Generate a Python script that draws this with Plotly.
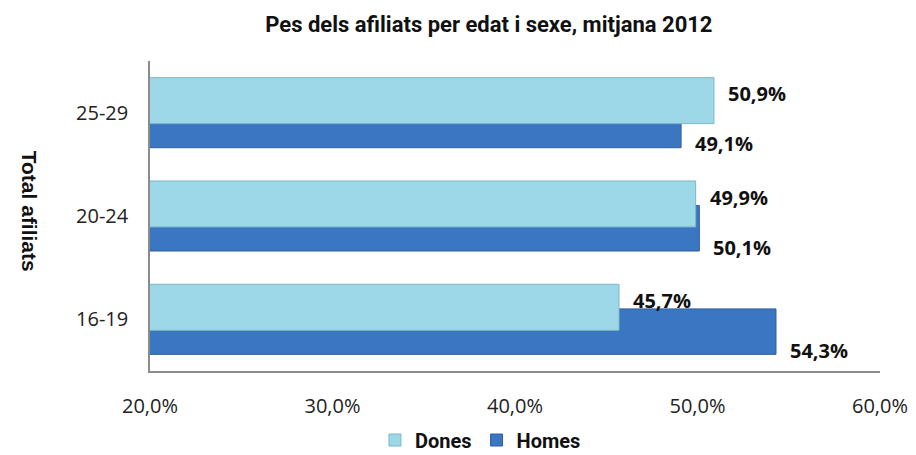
import plotly.graph_objects as go

categories = ["16-19", "20-24", "25-29"]
dones = [45.7, 49.9, 50.9]
homes = [54.3, 50.1, 49.1]
x_ticks = [20, 30, 40, 50, 60]
x_tick_labels = ["20,0%", "30,0%", "40,0%", "50,0%", "60,0%"]

def fmt(v):
    return f"{v:.1f}".replace(".", ",") + "%"

fig = go.Figure()
fig.add_trace(go.Bar(
    name="<b>Homes</b>", y=categories, x=homes, orientation="h",
    base=0, offset=-0.339, width=0.44,
    marker=dict(color="#3B76C3", line=dict(color="#2E5E9C", width=1)),
    legendrank=2, hoverinfo="x+y",
))
fig.add_trace(go.Bar(
    name="<b>Dones</b>", y=categories, x=dones, orientation="h",
    base=0, offset=-0.106, width=0.445,
    marker=dict(color="#9DD8E8", line=dict(color="#7DB6C6", width=1)),
    legendrank=1, hoverinfo="x+y",
))

label_font = dict(family="Open Sans, Noto Sans, sans-serif", size=20, color="#111")
for c, v in zip(categories, dones):
    fig.add_annotation(x=v, y=c, text="<b>" + fmt(v) + "</b>", showarrow=False,
                       xanchor="left", yanchor="middle", xshift=12, yshift=19, font=label_font)
for c, v in zip(categories, homes):
    fig.add_annotation(x=v, y=c, text="<b>" + fmt(v) + "</b>", showarrow=False,
                       xanchor="left", yanchor="middle", xshift=12, yshift=-31, font=label_font)

fig.add_annotation(text="<b>Total afiliats</b>", xref="paper", yref="paper",
                   x=-0.164, y=0.516, textangle=90, showarrow=False,
                   xanchor="center", yanchor="middle",
                   font=dict(family="Liberation Sans, Arial, sans-serif", size=21, color="#111"))

tick_font = dict(family="Open Sans, Noto Sans, sans-serif", size=20, color="#222")

fig.update_layout(
    width=916, height=455,
    margin=dict(l=142, r=44, t=53, b=92),
    paper_bgcolor="white", plot_bgcolor="white",
    barmode="overlay",
    title=dict(text="<b>Pes dels afiliats per edat i sexe, mitjana 2012</b>",
               x=0.525, xanchor="center", y=0.965, yanchor="middle",
               font=dict(family="Roboto, sans-serif", size=22, color="#111")),
    xaxis=dict(range=[20, 60], tickvals=x_ticks, ticktext=x_tick_labels, automargin=False,
               showgrid=False, zeroline=False, showline=True, linecolor="#8c8c8c", linewidth=1.5,
               ticks="", ticklabelstandoff=16, tickfont=tick_font),
    yaxis=dict(categoryorder="array", categoryarray=categories, range=[-0.5, 2.5], automargin=False,
               showgrid=False, zeroline=False, showline=True, linecolor="#8c8c8c", linewidth=1.5,
               ticks="", ticklabelstandoff=16, tickfont=tick_font),
    legend=dict(orientation="h", xref="container", yref="container",
                x=0.5158, xanchor="center", y=0.0505, yanchor="middle",
                font=dict(family="Roboto, sans-serif", size=20, color="#111"),
                itemwidth=30, traceorder="normal"),
    showlegend=True,
)
fig.write_html("out.html")
